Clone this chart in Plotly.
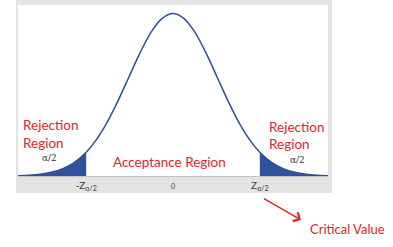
import plotly.graph_objects as go

# standard normal density values
z = [-3.5, -3.25, -3.0, -2.75, -2.5, -2.25, -1.96, -1.75, -1.5, -1.25, -1.0, -0.75, -0.5, -0.25, 0.0,
     0.25, 0.5, 0.75, 1.0, 1.25, 1.5, 1.75, 1.96, 2.25, 2.5, 2.75, 3.0, 3.25, 3.5]
density = [0.0009, 0.0020, 0.0044, 0.0091, 0.0175, 0.0317, 0.0584, 0.0863, 0.1295, 0.1826, 0.2420, 0.3011, 0.3521, 0.3867, 0.3989,
           0.3867, 0.3521, 0.3011, 0.2420, 0.1826, 0.1295, 0.0863, 0.0584, 0.0317, 0.0175, 0.0091, 0.0044, 0.0020, 0.0009]
z_crit = 1.96
tick_vals = [-z_crit, 0, z_crit]
tick_text = ["-Z<sub>α/2</sub>", "<span style='font-size:7px'>0</span>", "Z<sub>α/2</sub>"]

left_x = [v for v in z if v <= -z_crit]
left_y = [d for v, d in zip(z, density) if v <= -z_crit]
right_x = [v for v in z if v >= z_crit]
right_y = [d for v, d in zip(z, density) if v >= z_crit]

BLUE = "#2c4f97"
FILL = "#33539e"
RED = "#e3242b"

fig = go.Figure()
for xs, ys in [(left_x, left_y), (right_x, right_y)]:
    fig.add_trace(go.Scatter(x=xs, y=ys, mode="lines", line=dict(width=0, shape="spline"),
                             fill="tozeroy", fillcolor=FILL,
                             fillpattern=dict(shape="x", fgcolor="#24407f", bgcolor=FILL, size=3, solidity=0.25),
                             hoverinfo="skip", showlegend=False))
fig.add_trace(go.Scatter(x=z, y=density, mode="lines", line=dict(color=BLUE, width=1.5, shape="spline"),
                         showlegend=False))

font_red = dict(family="Lato, Carlito, sans-serif", size=13.5, color=RED)
font_small = dict(family="DejaVu Serif, serif", size=9, color="#333333")

ann = []
ann.append(dict(x=-3.43, y=0.1253, text="Rejection", xanchor="left", font=font_red))
ann.append(dict(x=-3.43, y=0.081, text="Region", xanchor="left", font=font_red))
ann.append(dict(x=-2.80, y=0.044, text="α/2", font=font_small))
ann.append(dict(x=-0.09, y=0.034, text="Acceptance Region", font=font_red))
ann.append(dict(x=2.12, y=0.120, text="Rejection", xanchor="left", font=font_red))
ann.append(dict(x=2.12, y=0.0786, text="Region", xanchor="left", font=font_red))
ann.append(dict(x=2.80, y=0.039, text="α/2", font=font_small))
for a in ann:
    a.update(xref="x", yref="y", showarrow=False)
ann.append(dict(x=1.0613, y=-0.310, xref="paper", yref="paper", xanchor="center", yanchor="middle",
                showarrow=False, text="Critical Value",
                font=dict(family="Lato, sans-serif", size=13, color=RED)))
ann.append(dict(x=0.9129, y=-0.2573, xref="paper", yref="paper", ax=-40, ay=-23, showarrow=True,
                arrowhead=4, arrowsize=1.3, arrowwidth=1.5, arrowcolor=RED, text=" "))

fig.update_layout(
    width=393, height=247,
    margin=dict(l=18, r=65, t=5, b=71),
    paper_bgcolor="white", plot_bgcolor="white",
    annotations=ann,
    shapes=[
        dict(type="rect", xref="paper", yref="paper", x0=-0.00645, x1=1.0129, y0=-0.0994, y1=1.029,
             fillcolor="#e3e3e3", line=dict(width=0), layer="below"),
        dict(type="rect", xref="paper", yref="paper", x0=0, x1=1, y0=0, y1=1,
             fillcolor="white", line=dict(width=0), layer="below"),
    ],
    xaxis=dict(range=[-3.5, 3.5], showgrid=False, zeroline=False, showline=True, linecolor="#c4c4c4",
               linewidth=1, tickvals=tick_vals, ticktext=tick_text, ticks="",
               tickfont=dict(family="Lato, sans-serif", size=10, color="#404040"), fixedrange=True),
    yaxis=dict(range=[0, 0.42], showgrid=False, zeroline=False, showticklabels=False, showline=False,
               fixedrange=True),
)

fig.write_html("out.html")
